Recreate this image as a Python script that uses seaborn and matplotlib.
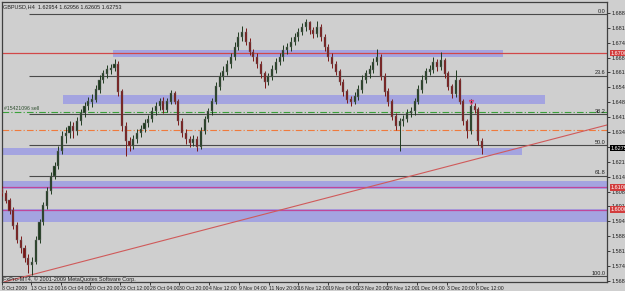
import matplotlib
matplotlib.use("Agg")
import matplotlib.pyplot as plt
import matplotlib.transforms as mtransforms
import seaborn as sns
import numpy as np

# ---------------- data ----------------
title_text = "GBPUSD,H4  1.62954 1.62956 1.62605 1.62753"
copyright_text = "FxPro-MT4, \u00a9 2001-2009 MetaQuotes Software Corp."
order_text = "#15421096 sell"

opens = [1.6090, 1.6075, 1.6040, 1.5996, 1.5929, 1.5863, 1.5827, 1.5783, 1.5752, 1.5765,
         1.5863, 1.5943, 1.6018, 1.6084, 1.6151, 1.6195, 1.6262, 1.6328, 1.6341, 1.6372,
         1.6350, 1.6394, 1.6430, 1.6461, 1.6483, 1.6492, 1.6536, 1.6580, 1.6607, 1.6625,
         1.6633, 1.6651, 1.6527, 1.6372, 1.6306, 1.6284, 1.6315, 1.6341, 1.6359, 1.6385,
         1.6403, 1.6439, 1.6461, 1.6483, 1.6447, 1.6483, 1.6518, 1.6483, 1.6394, 1.6341,
         1.6315, 1.6297, 1.6315, 1.6279, 1.6350, 1.6403, 1.6439, 1.6483, 1.6549, 1.6594,
         1.6616, 1.6651, 1.6682, 1.6727, 1.6771, 1.6793, 1.6749, 1.6705, 1.6682, 1.6651,
         1.6607, 1.6571, 1.6594, 1.6625, 1.6660, 1.6682, 1.6713, 1.6727, 1.6749, 1.6771,
         1.6793, 1.6815, 1.6837, 1.6802, 1.6784, 1.6815, 1.6771, 1.6727, 1.6682, 1.6651,
         1.6616, 1.6571, 1.6527, 1.6492, 1.6483, 1.6505, 1.6536, 1.6580, 1.6607, 1.6625,
         1.6660, 1.6682, 1.6594, 1.6527, 1.6483, 1.6416, 1.6372, 1.6394, 1.6403, 1.6430,
         1.6439, 1.6483, 1.6536, 1.6580, 1.6616, 1.6625, 1.6660, 1.6638, 1.6669, 1.6607,
         1.6549, 1.6518, 1.6580, 1.6483, 1.6394, 1.6350, 1.6461, 1.6447, 1.6306]
closes = [1.6075, 1.6040, 1.5996, 1.5929, 1.5863, 1.5827, 1.5783, 1.5752, 1.5765, 1.5863,
          1.5943, 1.6018, 1.6084, 1.6151, 1.6195, 1.6262, 1.6328, 1.6341, 1.6372, 1.6350,
          1.6394, 1.6430, 1.6461, 1.6483, 1.6492, 1.6536, 1.6580, 1.6607, 1.6625, 1.6633,
          1.6651, 1.6527, 1.6372, 1.6306, 1.6284, 1.6315, 1.6341, 1.6359, 1.6385, 1.6403,
          1.6439, 1.6461, 1.6483, 1.6447, 1.6483, 1.6518, 1.6483, 1.6394, 1.6341, 1.6315,
          1.6297, 1.6315, 1.6279, 1.6350, 1.6403, 1.6439, 1.6483, 1.6549, 1.6594, 1.6616,
          1.6651, 1.6682, 1.6727, 1.6771, 1.6793, 1.6749, 1.6705, 1.6682, 1.6651, 1.6607,
          1.6571, 1.6594, 1.6625, 1.6660, 1.6682, 1.6713, 1.6727, 1.6749, 1.6771, 1.6793,
          1.6815, 1.6837, 1.6802, 1.6784, 1.6815, 1.6771, 1.6727, 1.6682, 1.6651, 1.6616,
          1.6571, 1.6527, 1.6492, 1.6483, 1.6505, 1.6536, 1.6580, 1.6607, 1.6625, 1.6660,
          1.6682, 1.6594, 1.6527, 1.6483, 1.6416, 1.6372, 1.6394, 1.6403, 1.6430, 1.6439,
          1.6483, 1.6536, 1.6580, 1.6616, 1.6625, 1.6660, 1.6638, 1.6669, 1.6607, 1.6549,
          1.6518, 1.6580, 1.6483, 1.6394, 1.6350, 1.6461, 1.6447, 1.6306, 1.6275]
highs = [1.6105, 1.6088, 1.6052, 1.6010, 1.5945, 1.5880, 1.5840, 1.5800, 1.5790, 1.5880,
         1.5960, 1.6035, 1.6100, 1.6170, 1.6215, 1.6285, 1.6350, 1.6370, 1.6395, 1.6390,
         1.6415, 1.6450, 1.6480, 1.6505, 1.6515, 1.6555, 1.6600, 1.6625, 1.6645, 1.6650,
         1.6673, 1.6665, 1.6540, 1.6390, 1.6325, 1.6335, 1.6360, 1.6380, 1.6405, 1.6425,
         1.6460, 1.6480, 1.6500, 1.6505, 1.6500, 1.6536, 1.6530, 1.6495, 1.6410, 1.6360,
         1.6330, 1.6335, 1.6330, 1.6370, 1.6420, 1.6455, 1.6500, 1.6570, 1.6615, 1.6640,
         1.6670, 1.6700, 1.6750, 1.6795, 1.6820, 1.6810, 1.6765, 1.6720, 1.6700, 1.6665,
         1.6620, 1.6610, 1.6645, 1.6680, 1.6700, 1.6735, 1.6745, 1.6770, 1.6790, 1.6812,
         1.6835, 1.6851, 1.6845, 1.6815, 1.6842, 1.6830, 1.6785, 1.6740, 1.6700, 1.6665,
         1.6630, 1.6585, 1.6540, 1.6510, 1.6525, 1.6555, 1.6600, 1.6625, 1.6645, 1.6680,
         1.6718, 1.6695, 1.6610, 1.6545, 1.6495, 1.6430, 1.6410, 1.6425, 1.6450, 1.6460,
         1.6500, 1.6555, 1.6600, 1.6635, 1.6645, 1.6682, 1.6675, 1.6705, 1.6680, 1.6620,
         1.6560, 1.6625, 1.6590, 1.6495, 1.6405, 1.6496, 1.6475, 1.6460, 1.6320]
lows = [1.6060, 1.6028, 1.5980, 1.5915, 1.5850, 1.5805, 1.5765, 1.5715, 1.5706, 1.5755,
        1.5850, 1.5930, 1.6005, 1.6070, 1.6135, 1.6180, 1.6250, 1.6300, 1.6320, 1.6320,
        1.6335, 1.6380, 1.6415, 1.6445, 1.6460, 1.6480, 1.6520, 1.6565, 1.6590, 1.6605,
        1.6620, 1.6510, 1.6350, 1.6240, 1.6262, 1.6270, 1.6300, 1.6325, 1.6345, 1.6370,
        1.6390, 1.6425, 1.6445, 1.6430, 1.6435, 1.6470, 1.6470, 1.6380, 1.6325, 1.6295,
        1.6280, 1.6285, 1.6262, 1.6270, 1.6340, 1.6390, 1.6425, 1.6470, 1.6535, 1.6580,
        1.6600, 1.6635, 1.6670, 1.6715, 1.6755, 1.6735, 1.6690, 1.6665, 1.6635, 1.6590,
        1.6545, 1.6555, 1.6580, 1.6610, 1.6645, 1.6665, 1.6695, 1.6710, 1.6735, 1.6755,
        1.6780, 1.6800, 1.6785, 1.6765, 1.6770, 1.6755, 1.6710, 1.6665, 1.6635, 1.6600,
        1.6555, 1.6510, 1.6475, 1.6465, 1.6470, 1.6490, 1.6520, 1.6565, 1.6590, 1.6610,
        1.6645, 1.6580, 1.6510, 1.6465, 1.6400, 1.6355, 1.6262, 1.6375, 1.6390, 1.6415,
        1.6425, 1.6470, 1.6520, 1.6565, 1.6600, 1.6610, 1.6620, 1.6625, 1.6590, 1.6535,
        1.6500, 1.6505, 1.6470, 1.6380, 1.6319, 1.6340, 1.6430, 1.6290, 1.6248]

date_tick_bars = [0, 7.7, 15.6, 23.5, 31.5, 39.4, 47.3, 55.2, 63.1, 71.1, 79.0, 86.9, 94.8,
                  102.7, 110.7, 118.6, 126.5]
date_labels = ["8 Oct 2009", "13 Oct 12:00", "16 Oct 04:00", "20 Oct 20:00", "23 Oct 12:00",
               "28 Oct 04:00", "30 Oct 20:00", "4 Nov 12:00", "9 Nov 04:00", "11 Nov 20:00",
               "16 Nov 12:00", "19 Nov 04:00", "23 Nov 20:00", "26 Nov 12:00", "1 Dec 04:00",
               "3 Dec 20:00", "8 Dec 12:00"]
price_ticks = [1.56810, 1.57475, 1.58140, 1.58810, 1.59475, 1.60140, 1.60805, 1.61470,
               1.62135, 1.62805, 1.63470, 1.64135, 1.64800, 1.65470, 1.66135, 1.66800,
               1.67465, 1.68130, 1.68800]

# support/resistance zones: (start bar, end bar, low price, high price)
zone_start = [29.6, 16.3, -1.0, -1.0, -1.0]
zone_end = [133.6, 144.8, 138.7, 170.0, 170.0]
zone_low = [1.66823, 1.64722, 1.62442, 1.60923, 1.59448]
zone_high = [1.67136, 1.65125, 1.62755, 1.61280, 1.60029]

red_levels = [1.67000]
pink_levels = [1.61000, 1.60000]
order_price = 1.64370
stop_price = 1.63560
last_price = 1.62753

fib_high = 1.68745
fib_low = 1.57034
fib_start_bar = 7.2
fib_levels = [0.0, 23.6, 38.2, 50.0, 61.8, 100.0]

trend_bars = [0.0, 161.3]
trend_prices = [1.56743, 1.63784]

sell_marker_bar = 125.0
sell_marker_price = 1.6480

# ---------------- style ----------------
sns.set_theme(style="white")
plt.rcParams['font.family'] = ['Liberation Sans', 'DejaVu Sans']
bg = '#cfcfcf'
W, H = 625, 291
fig = plt.figure(figsize=(W / 100, H / 100), dpi=100, facecolor=bg)
ax = fig.add_axes([2 / W, 9 / H, 605 / W, 280 / H], facecolor=bg)

ymin, ymax = 1.56765, 1.69281
ax.set_ylim(ymin, ymax)
ax.set_xlim(0, 161.3)

# zones
for s, e, lo, hi in zip(zone_start, zone_end, zone_low, zone_high):
    ax.fill_between([s, e], lo, hi, color='#a2a2e2', alpha=0.95, lw=0, zorder=1)

# fib lines
fs = 4.0
blend = mtransforms.blended_transform_factory(ax.transAxes, ax.transData)
for lv in fib_levels:
    p = fib_high - lv / 100.0 * (fib_high - fib_low)
    start = -1 if lv == 100.0 else fib_start_bar
    ax.hlines(p, start, 170, color='#4a4a4a', lw=0.8, zorder=2)
    ax.text(0.997, p + 0.0002, f"{lv:.1f}", transform=blend,
            ha='right', va='bottom', fontsize=fs, color='#202020', zorder=6)

# horizontal levels
for p in red_levels:
    ax.axhline(p, color='#d24848', lw=0.9, zorder=2)
for p in pink_levels:
    ax.axhline(p, color='#c0479a', lw=0.9, zorder=2)
ax.axhline(order_price, color='#3aa03a', lw=0.8, ls=(0, (6, 2, 1, 2)), zorder=2)
ax.axhline(stop_price, color='#f07a3c', lw=0.8, ls=(0, (6, 2, 1, 2)), zorder=2)
ax.text(0.6, order_price + 0.0003, order_text, fontsize=fs - 0.3, color='#2f4f2f', va='bottom', ha='left', zorder=6)

# trendline
ax.axline((trend_bars[0], trend_prices[0]), (trend_bars[1], trend_prices[1]), color='#d05a5a', lw=0.8, zorder=2)

# candles
x = np.arange(len(closes))
o = np.array(opens); c = np.array(closes); h = np.array(highs); l = np.array(lows)
up = c >= o
cols = np.where(up, '#1e3a1e', '#7a1616')
ax.vlines(x, l, h, colors=cols, lw=0.7, zorder=3)
ax.bar(x, np.abs(c - o) + 0.00015, bottom=np.minimum(o, c), width=0.55,
       color=cols, edgecolor='#707070', linewidth=0.3, zorder=4)

# sell arrow marker
ax.plot([sell_marker_bar], [sell_marker_price], marker='v', ms=3.0, color='#e04070', mfc='none', mew=0.8, zorder=5)

# texts
ax.text(0.3, ymax - 0.0008, title_text, fontsize=fs, color='#202020', va='top', ha='left', zorder=6)
ax.text(0.3, ymin + 0.0002, copyright_text, fontsize=fs, color='#202020', va='bottom', ha='left', zorder=6)

# axes
ax.yaxis.tick_right()
ax.set_yticks(price_ticks)
ax.set_yticklabels([f"{p:.5f}" for p in price_ticks])
ax.tick_params(axis='y', which='both', right=True, length=2, width=0.6, labelsize=fs, pad=1.5, colors='#202020')
ax.set_xticks(date_tick_bars)
ax.set_xticklabels(date_labels)
for t in ax.get_xticklabels():
    t.set_ha('left')
ax.tick_params(axis='x', bottom=True, length=2, width=0.6, labelsize=3.7, pad=1.0, colors='#202020')
for sp in ax.spines.values():
    sp.set_color('#404040'); sp.set_linewidth(0.9)

# right-side price tags
for p, fc in [(red_levels[0], '#d23c3c'), (pink_levels[0], '#d23c3c'), (pink_levels[1], '#d23c3c'), (last_price, '#000000')]:
    ax.text(1.006, p, f"{p:.5f}", transform=blend, ha='left', va='center', fontsize=fs, color='white',
            bbox=dict(boxstyle='square,pad=0.15', fc=fc, ec='none'), zorder=7, clip_on=False)

fig.savefig('out.png', dpi=100, facecolor=bg)
